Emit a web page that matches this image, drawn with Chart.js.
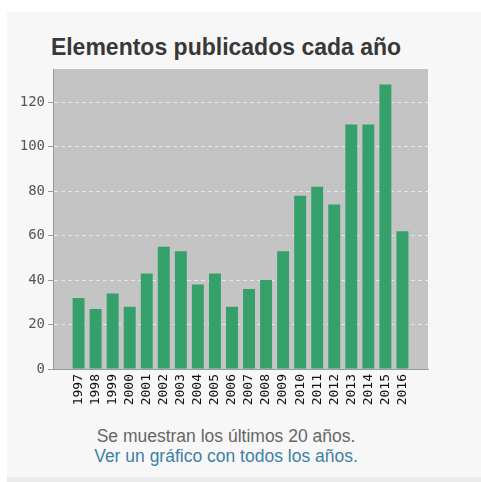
<!DOCTYPE html>
<html>
<head>
<meta charset="utf-8">
<script src="https://cdn.jsdelivr.net/npm/chart.js@4.4.0/dist/chart.umd.min.js"></script>
<style>
  html, body { margin: 0; padding: 0; background: #ffffff; width: 481px; height: 482px; overflow: hidden; }
  #caja { position: absolute; left: 7px; top: 12px; width: 474px; height: 465px; background: #f7f7f7; }
  #franja { position: absolute; left: 7px; top: 477px; width: 474px; height: 5px; background: #ebebeb; }
  #grafico { position: absolute; left: 0; top: 0; }
  #titulo { position: absolute; left: 0; top: 33px; width: 452px; text-align: center;
            font-family: "Liberation Sans", Arial, sans-serif; font-size: 23px; font-weight: bold;
            line-height: 28px; color: #383838; }
  #pie { position: absolute; left: 0; top: 426px; width: 452px; text-align: center;
         font-family: "Liberation Sans", Arial, sans-serif; font-size: 17.5px; line-height: 20px; color: #666; }
  #pie a { color: #3d7fa6; text-decoration: none; }
</style>
</head>
<body>
<div id="caja"></div>
<div id="franja"></div>
<div id="titulo">Elementos publicados cada año</div>
<canvas id="grafico" width="452" height="420"></canvas>
<div id="pie">
  Se muestran los últimos 20 años.<br>
  <a href="#">Ver un gráfico con todos los años.</a>
</div>
<script>
// Datos
const anios = [1997, 1998, 1999, 2000, 2001, 2002, 2003, 2004, 2005, 2006,
               2007, 2008, 2009, 2010, 2011, 2012, 2013, 2014, 2015, 2016];
const elementos = [32, 27, 34, 28, 43, 55, 53, 38, 43, 28,
                   36, 40, 53, 78, 82, 74, 110, 110, 128, 62];
const ticksY = [0, 20, 40, 60, 80, 100, 120];

// Fondo gris del área del gráfico
const fondoGris = {
    id: 'fondoGris',
    beforeDraw(chart) {
        const { ctx, chartArea } = chart;
        ctx.save();
        ctx.fillStyle = '#c4c4c4';
        ctx.fillRect(chartArea.left, chartArea.top, chartArea.width, chartArea.height);
        ctx.restore();
    }
};

const ctx = document.getElementById('grafico').getContext('2d');
new Chart(ctx, {
    type: 'bar',
    data: {
        datasets: [{
            label: 'Elementos',
            data: anios.map((a, i) => ({ x: a, y: elementos[i] })),
            backgroundColor: '#36a06a',
            borderWidth: 0,
            barPercentage: 0.7,
            categoryPercentage: 1
        }]
    },
    options: {
        responsive: false,
        maintainAspectRatio: false,
        animation: false,
        layout: { padding: { left: 0, right: 24, top: 69, bottom: 0 } },
        plugins: {
            legend: { display: false },
            tooltip: { enabled: false },
            title: { display: false }
        },
        scales: {
            x: {
                type: 'linear',
                offset: false,
                min: 1995.5,
                max: 2017.5,
                afterBuildTicks: axis => { axis.ticks = anios.map(v => ({ value: v })); },
                afterFit: axis => { axis.height = 51; },
                grid: { display: true, drawOnChartArea: false, drawTicks: false },
                border: { display: true, color: '#9a9a9a' },
                ticks: {
                    autoSkip: false,
                    minRotation: 90,
                    maxRotation: 90,
                    padding: 5,
                    color: '#111111',
                    font: { family: 'DejaVu Sans Mono', size: 13 },
                    callback: v => String(v)
                }
            },
            y: {
                min: 0,
                max: 135,
                afterBuildTicks: axis => { axis.ticks = ticksY.map(v => ({ value: v })); },
                afterFit: axis => { axis.width = 53; },
                grid: {
                    color: 'rgba(255,255,255,0.6)',
                    tickBorderDash: [],
                    tickColor: '#9a9a9a',
                    tickLength: 5
                },
                border: { display: true, color: '#9a9a9a', dash: [4, 3] },
                ticks: {
                    padding: 3,
                    color: '#555555',
                    font: { family: 'DejaVu Sans Mono', size: 14 }
                }
            }
        }
    },
    plugins: [fondoGris]
});
</script>
</body>
</html>
